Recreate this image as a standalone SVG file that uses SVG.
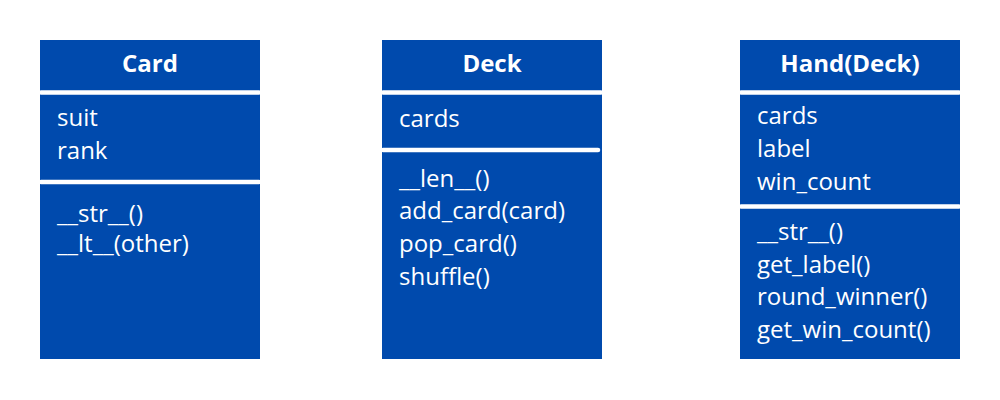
<svg xmlns="http://www.w3.org/2000/svg" width="1000" height="400" viewBox="0 0 1000 400">
<style>
.box{fill:#004aad}
.sep{stroke:#ffffff;stroke-width:4.5;stroke-linecap:round}
.t{font-family:"Open Sans","Noto Sans",sans-serif;font-size:24px;font-weight:bold;fill:#ffffff;text-anchor:middle}
.b{font-family:"Open Sans","Noto Sans",sans-serif;font-size:24px;fill:#ffffff}
</style>
<rect width="1000" height="400" fill="#ffffff"/>
<g id="card">
<rect class="box" x="40" y="40" width="220" height="319"/>
<line class="sep" x1="41" y1="92.5" x2="259" y2="92.5"/>
<line class="sep" x1="41" y1="182" x2="259" y2="182"/>
<text class="t" x="150" y="72">Card</text>
<text class="b" x="57" y="126">suit</text>
<text class="b" x="57" y="159">rank</text>
<text class="b" x="57" y="222">__str__()</text>
<text class="b" x="57" y="252">__lt__(other)</text>
</g>
<g id="deck">
<rect class="box" x="382" y="40" width="220" height="319"/>
<line class="sep" x1="383" y1="92.5" x2="601" y2="92.5"/>
<line class="sep" x1="383" y1="150" x2="598" y2="150"/>
<text class="t" x="492" y="72">Deck</text>
<text class="b" x="399" y="127">cards</text>
<text class="b" x="399" y="187">__len__()</text>
<text class="b" x="399" y="219">add_card(card)</text>
<text class="b" x="399" y="252">pop_card()</text>
<text class="b" x="399" y="285">shuffle()</text>
</g>
<g id="hand">
<rect class="box" x="740" y="40" width="220" height="319"/>
<line class="sep" x1="741" y1="92.5" x2="959" y2="92.5"/>
<line class="sep" x1="741" y1="206.5" x2="959" y2="206.5"/>
<text class="t" x="850" y="72">Hand(Deck)</text>
<text class="b" x="757" y="124">cards</text>
<text class="b" x="757" y="157">label</text>
<text class="b" x="757" y="190">win_count</text>
<text class="b" x="757" y="240">__str__()</text>
<text class="b" x="757" y="273">get_label()</text>
<text class="b" x="757" y="305">round_winner()</text>
<text class="b" x="757" y="338">get_win_count()</text>
</g>
<g id="connectors"></g>
</svg>
